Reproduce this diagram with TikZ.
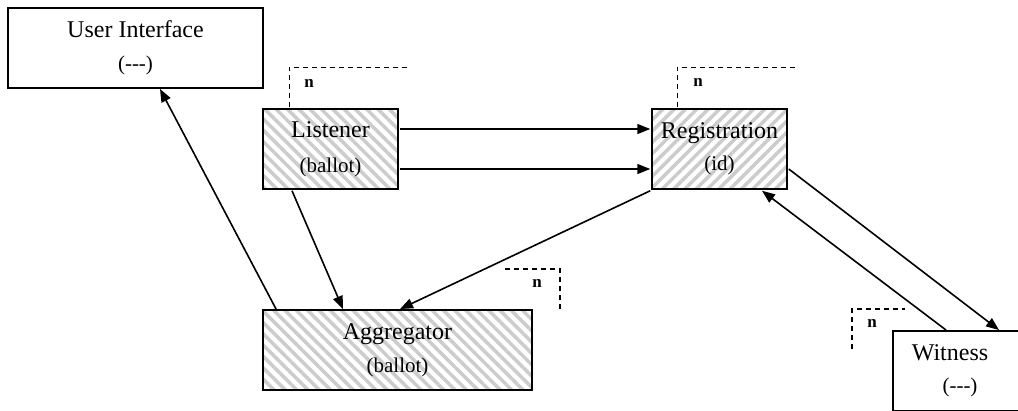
\documentclass[tikz,border=0pt]{standalone}
\usepackage{fontspec}
\setmainfont{Liberation Serif}
\usetikzlibrary{arrows.meta,patterns.meta}

\newcommand{\subline}[1]{{\fontsize{21}{30}\selectfont #1}}

\begin{document}
\begin{tikzpicture}[x=1pt,y=-1pt,->,>={Triangle[length=13pt,width=10pt]},line width=1.6pt,
        box/.style={rectangle,draw,-,line width=1.9pt,minimum height=80pt,inner sep=0pt,
          align=center,font=\fontsize{24}{30}\selectfont},
        hatch box/.style={box,pattern={Lines[angle=#1,distance=8pt,line width=3.5pt]},pattern color=gray!40},
        marker/.style={-,line width=1.5pt,dash pattern=on 5pt off 4pt},
        n label/.style={font=\fontsize{17}{17}\bfseries,inner sep=0pt}]

        \useasboundingbox (0,0) rectangle (1018,410);

        \node[box,minimum width=255pt] (ui) at (135.5,48) {User Interface\\[3pt]\subline{(-{}-{}-)}};
        \node[hatch box=-45,minimum width=135pt] (lis) at (330.5,149) {Listener\\[5pt]\subline{(ballot)}};
        \node[hatch box=45,minimum width=135pt] (reg) at (719.5,149) {Registration\\[2pt]\subline{(id)}};
        \node[hatch box=-45,minimum width=269pt] (agg) at (397.5,350) {Aggregator\\[3pt]\subline{(ballot)}};
        \node[box,minimum width=140pt] (wit) at (963,371) {\hspace*{-26pt}Witness\\[2pt]\subline{\hspace*{-6pt}(-{}-{}-)}};

        % n markers
        \draw[marker] ([xshift=28pt]lis.north west) -- ++(0,-40) -- ++(121,0);
        \draw[marker] ([xshift=27pt]reg.north west) -- ++(0,-40) -- ++(121,0);
        \draw[marker] ([xshift=27pt]agg.north east) -- ++(0,-40) -- ++(-55,0);
        \draw[marker] ([xshift=-40pt,yshift=-19pt]wit.north west) -- ++(0,-40) -- ++(53,0);
        \node[n label] (nlis) at (309,83) {n};
        \node[n label] (nreg) at (698,82) {n};
        \node[n label] (nagg) at (537,283) {n};
        \node[n label] (nwit) at (872,323) {n};

        \draw ([xshift=14pt]agg.north west) -- ([xshift=24.5pt]ui.south);
        \draw ([yshift=20pt]lis.east) -- ([yshift=20pt]reg.west);
        \draw ([yshift=-20pt]lis.east) -- ([yshift=-20pt]reg.west);
        \draw ([xshift=-38.5pt]lis.south) -- ([xshift=-54.5pt]agg.north);
        \draw (reg.south west) -- ([xshift=2.5pt]agg.north);
        \draw ([yshift=-20pt]reg.east) -- ([xshift=107pt]wit.north west);
        \draw ([xshift=54pt]wit.north west) -- ([xshift=42.5pt]reg.south);
      \end{tikzpicture}
\end{document}
